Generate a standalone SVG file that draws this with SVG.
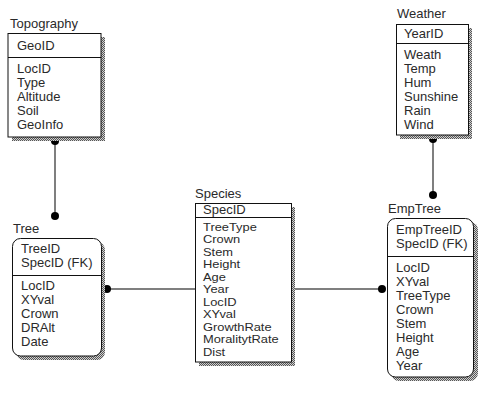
<svg xmlns="http://www.w3.org/2000/svg" width="478" height="393" viewBox="0 0 478 393">
<defs>
<pattern id="hatch" width="2" height="2" patternUnits="userSpaceOnUse">
<rect width="2" height="2" fill="#d0d0d0"/>
<rect width="1" height="1" fill="#555"/>
<rect x="1" y="1" width="1" height="1" fill="#555"/>
</pattern>
</defs>
<style>
text{font-family:"Liberation Sans",Arial,sans-serif;font-size:13px;fill:#2a2a2a}
.sm{font-size:11.2px}
.box{fill:#fff;stroke:#111;stroke-width:1}
.sh{fill:url(#hatch)}
.div{stroke:#111;stroke-width:1}
.ln{stroke:#555;stroke-width:1.5;fill:none}
.dot{fill:#000}
</style>
<rect width="478" height="393" fill="#fff"/>
<g id="connectors">
<line class="ln" x1="55" y1="140" x2="55" y2="216"/>
<circle class="dot" cx="55" cy="141" r="4"/>
<circle class="dot" cx="55" cy="216" r="4"/>
<line class="ln" x1="106" y1="289" x2="195" y2="289"/>
<circle class="dot" cx="107" cy="289" r="4"/>
<line class="ln" x1="295" y1="289" x2="382" y2="289"/>
<circle class="dot" cx="382" cy="289" r="4"/>
<line class="ln" x1="433" y1="139" x2="433" y2="195"/>
<circle class="dot" cx="433" cy="139" r="4"/>
<circle class="dot" cx="433" cy="195" r="4"/>
</g>
<g id="topography">
<text x="10" y="28">Topography</text>
<rect class="sh" x="12" y="37" width="93" height="104"/>
<rect class="box" x="8" y="33.5" width="93" height="103.5"/>
<line class="div" x1="8" y1="57.5" x2="101" y2="57.5"/>
<text x="17" y="50">GeoID</text>
<text x="17" y="73">LocID</text>
<text x="17" y="87">Type</text>
<text x="17" y="101">Altitude</text>
<text x="17" y="115">Soil</text>
<text x="17" y="129">GeoInfo</text>
</g>
<g id="weather">
<text x="397" y="18">Weather</text>
<rect class="sh" x="400" y="28" width="72" height="111"/>
<rect class="box" x="396.5" y="24.5" width="72" height="110.5"/>
<line class="div" x1="396.5" y1="43.5" x2="468.5" y2="43.5"/>
<text x="404" y="38">YearID</text>
<text x="404" y="59">Weath</text>
<text x="404" y="73">Temp</text>
<text x="404" y="87">Hum</text>
<text x="404" y="101">Sunshine</text>
<text x="404" y="115">Rain</text>
<text x="404" y="129">Wind</text>
</g>
<g id="tree">
<text x="13" y="233">Tree</text>
<rect class="sh" x="16" y="242" width="89" height="118" rx="8"/>
<rect class="box" x="12.5" y="238.5" width="89" height="117.5" rx="8"/>
<line class="div" x1="12.5" y1="275.5" x2="101.5" y2="275.5"/>
<text x="21" y="253">TreeID</text>
<text x="21" y="267">SpecID (FK)</text>
<text x="21" y="290">LocID</text>
<text x="21" y="304">XYval</text>
<text x="21" y="318">Crown</text>
<text x="21" y="332">DRAlt</text>
<text x="21" y="346">Date</text>
</g>
<g id="species">
<text x="195" y="198">Species</text>
<rect class="sh" x="199" y="207" width="96" height="159"/>
<rect class="box" x="195.5" y="203.5" width="96" height="158.5"/>
<line class="div" x1="195.5" y1="217.5" x2="291.5" y2="217.5"/>
<text x="203" y="214">SpecID</text>
<g transform="translate(203,0) scale(1.15,1)">
<text class="sm" x="0" y="231">TreeType</text>
<text class="sm" x="0" y="243.5">Crown</text>
<text class="sm" x="0" y="256">Stem</text>
<text class="sm" x="0" y="268.5">Height</text>
<text class="sm" x="0" y="281">Age</text>
<text class="sm" x="0" y="293.5">Year</text>
<text class="sm" x="0" y="306">LocID</text>
<text class="sm" x="0" y="318.5">XYval</text>
<text class="sm" x="0" y="331">GrowthRate</text>
<text class="sm" x="0" y="343.5">MoralitytRate</text>
<text class="sm" x="0" y="356">Dist</text>
</g>
</g>
<g id="emptree">
<text x="388" y="213">EmpTree</text>
<rect class="sh" x="391" y="222" width="87" height="159" rx="8"/>
<rect class="box" x="387.5" y="218.5" width="86" height="158.5" rx="8"/>
<line class="div" x1="387.5" y1="256.5" x2="473.5" y2="256.5"/>
<text x="396" y="234">EmpTreeID</text>
<text x="396" y="248">SpecID (FK)</text>
<text x="396" y="272">LocID</text>
<text x="396" y="286">XYval</text>
<text x="396" y="300">TreeType</text>
<text x="396" y="314">Crown</text>
<text x="396" y="328">Stem</text>
<text x="396" y="342">Height</text>
<text x="396" y="356">Age</text>
<text x="396" y="370">Year</text>
</g>
</svg>
